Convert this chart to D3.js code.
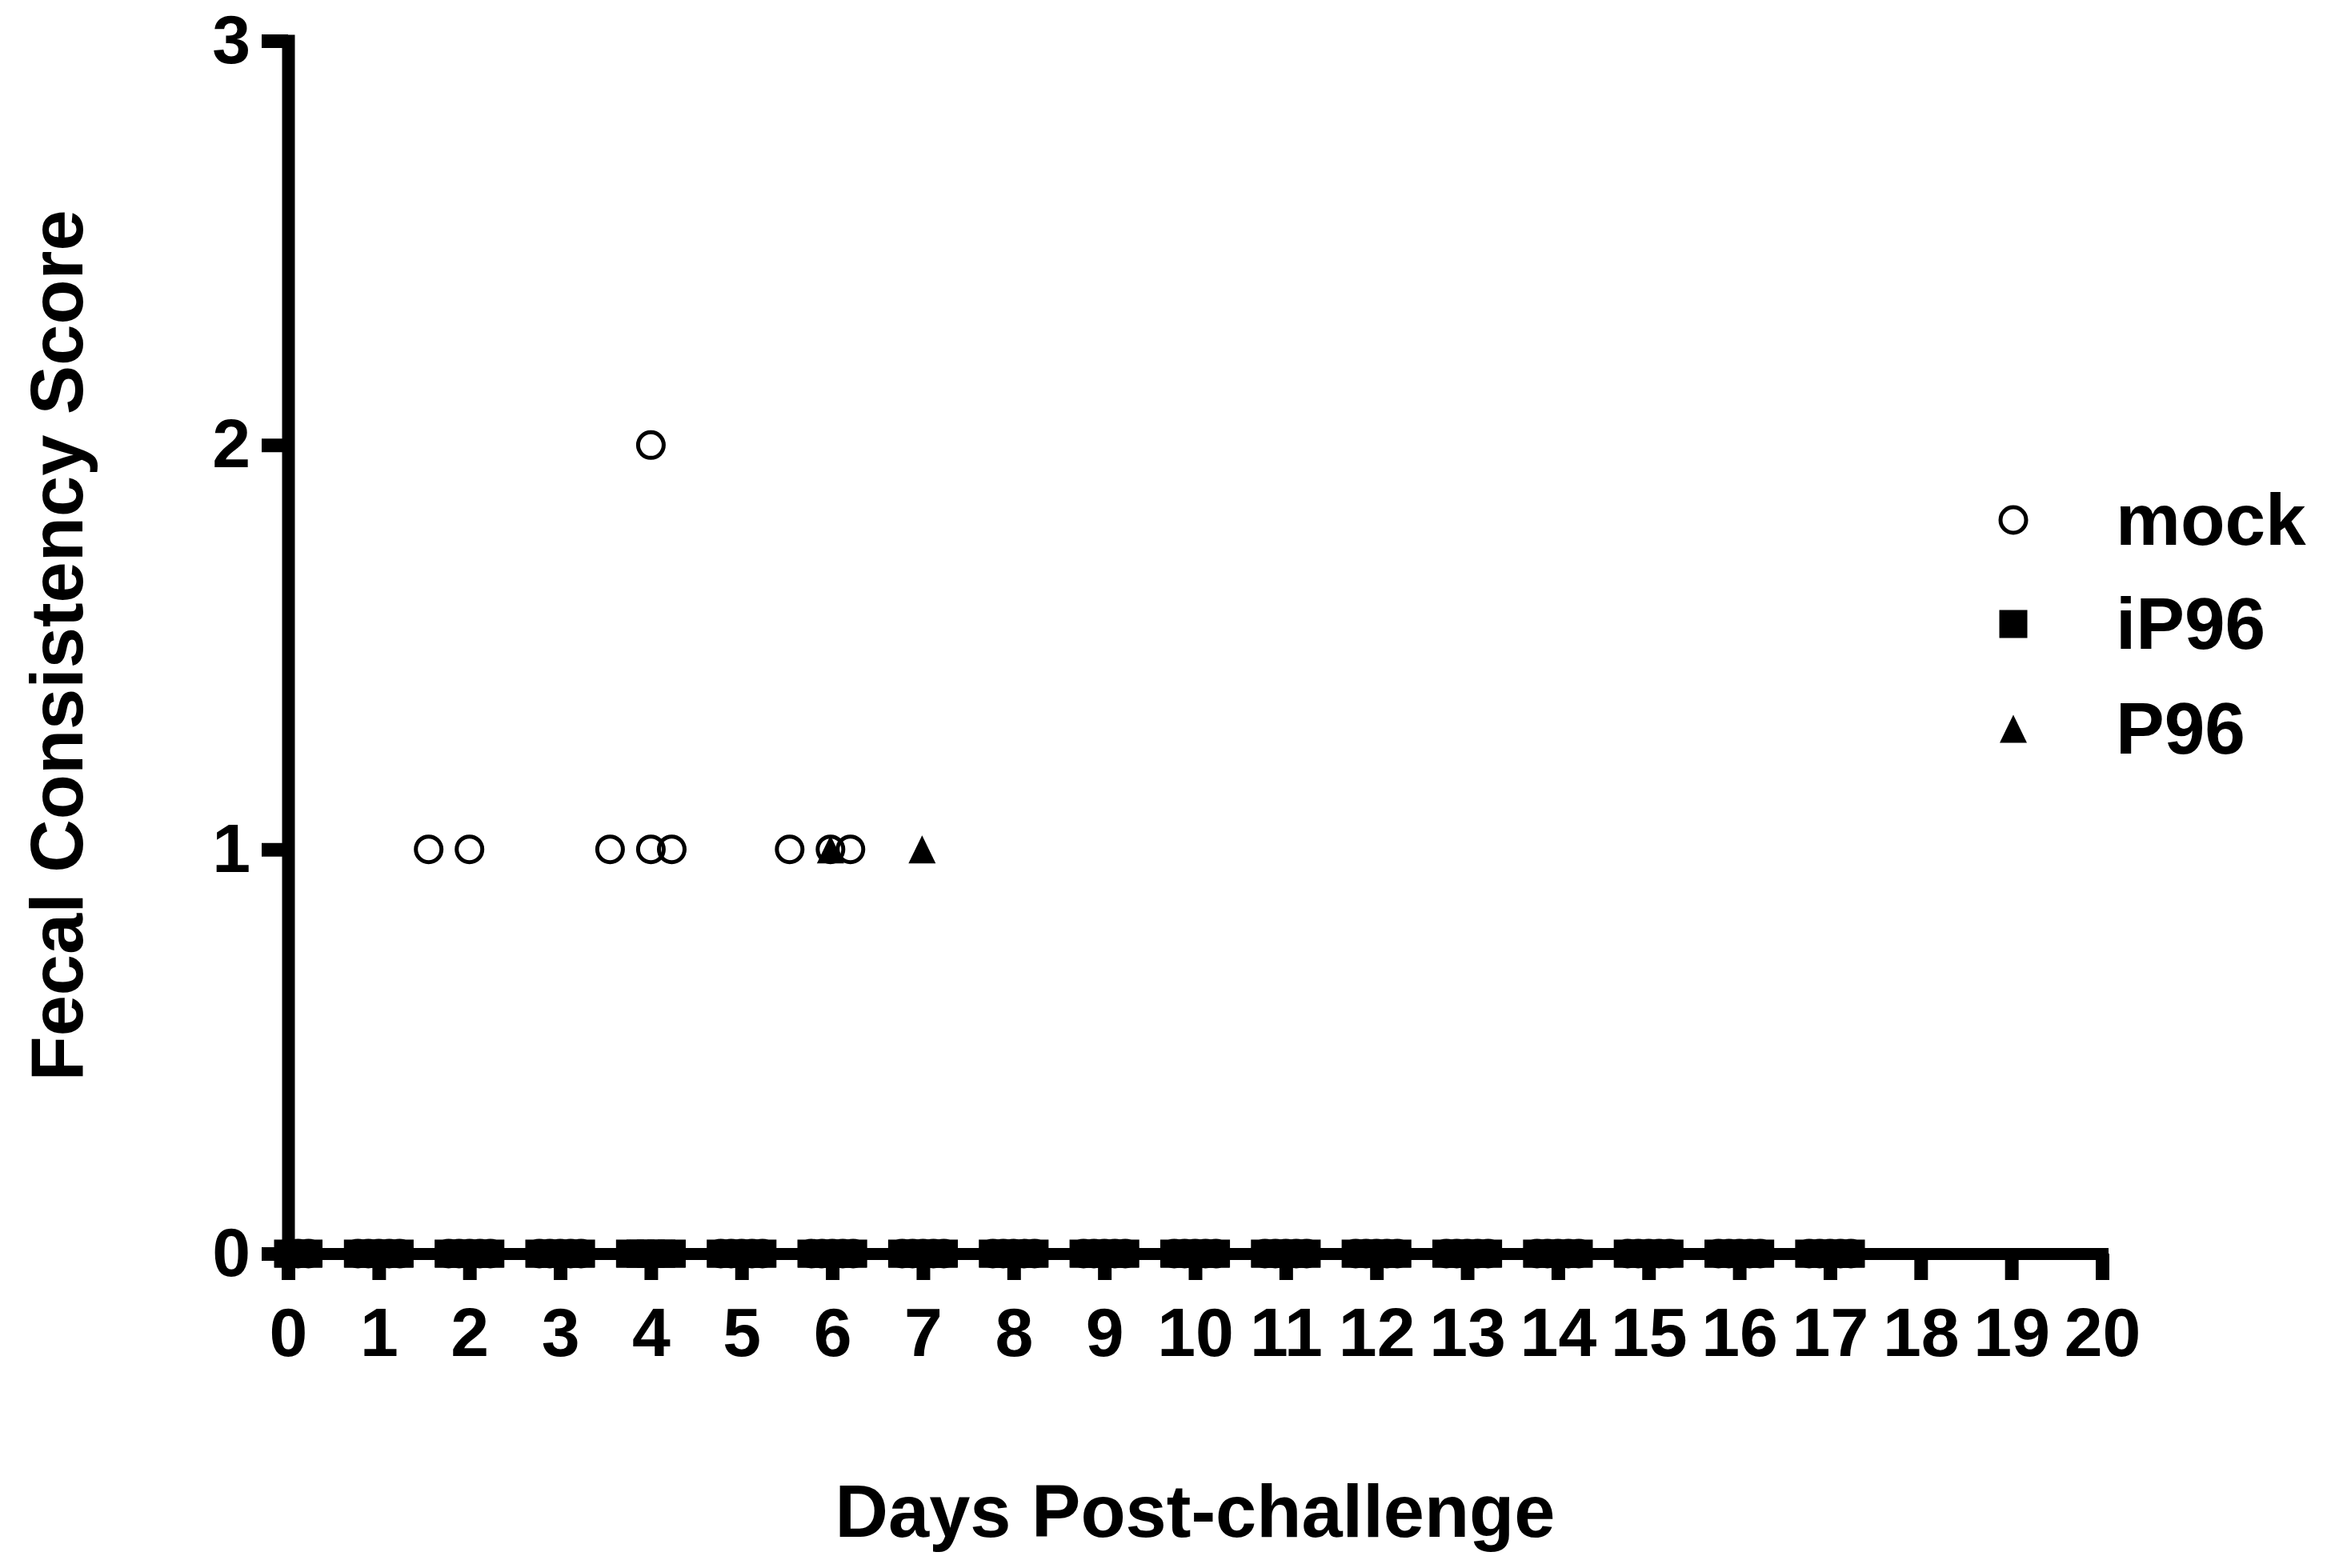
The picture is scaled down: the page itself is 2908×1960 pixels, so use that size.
<!DOCTYPE html>
<html lang="en">
<head>
  <meta charset="utf-8">
  <title>Fecal Consistency Score</title>
  <script src="https://cdnjs.cloudflare.com/ajax/libs/d3/7.8.5/d3.min.js"></script>
  <style>
    body { margin: 0; background: #fff; }
    text { font-family: "Liberation Sans", Arial, sans-serif; font-weight: bold; fill: #000; }
    .axis path, .axis line { stroke: #000; }
  </style>
</head>
<body>
  <svg id="chart" width="2908" height="1960"></svg>

  <script>
    // ticks
    var xTicks = [0, 1, 2, 3, 4, 5, 6, 7, 8, 9, 10, 11, 12, 13, 14, 15, 16, 17, 18, 19, 20];
    var yTicks = [0, 1, 2, 3];

    // days that were scored
    var days = [0, 1, 2, 3, 4, 5, 6, 7, 8, 9, 10, 11, 12, 13, 14, 15, 16, 17];

    // spread of overlapping zero scores around each day
    var zeroSpread = [-0.23, -0.115, 0, 0.115, 0.23];
    var day0Spread = [0, 0.11, 0.225];

    // non-zero scores: [x position, score]
    var mockScores = [[1.55, 1], [2, 1], [3.55, 1], [4, 1], [4.23, 1], [4, 2], [5.53, 1], [5.98, 1], [6.2, 1]];
    var iP96Scores = [];
    var p96Scores = [[5.98, 1], [6.99, 1]];

    // days where every mock animal scored above zero
    var mockNoZeroDays = [4];

    var groups = ["mock", "iP96", "P96"];

    var svg = d3.select("#chart");

    var x = d3.scaleLinear().domain([0, 20]).range([360, 2627]);
    var y = d3.scaleLinear().domain([0, 3]).range([1567, 51]);

    // axes
    var xAxis = svg.append("g")
      .attr("class", "axis")
      .attr("transform", "translate(0," + y(0) + ")")
      .call(d3.axisBottom(x).tickValues(xTicks).tickSize(33).tickSizeOuter(0).tickPadding(34).tickFormat(d3.format("d")));
    xAxis.select(".domain").attr("stroke-width", 15).attr("stroke-linecap", "square");
    xAxis.selectAll(".tick line").attr("stroke-width", 17);
    xAxis.selectAll(".tick text").attr("font-size", 86).attr("dy", "0.71em");

    var yAxis = svg.append("g")
      .attr("class", "axis")
      .attr("transform", "translate(" + x(0) + ",0)")
      .call(d3.axisLeft(y).tickValues(yTicks).tickSize(33).tickSizeOuter(0).tickPadding(14).tickFormat(d3.format("d")));
    yAxis.select(".domain").attr("stroke-width", 16).attr("stroke-linecap", "square");
    yAxis.selectAll(".tick line").attr("stroke-width", 17);
    yAxis.selectAll(".tick text").attr("font-size", 86).attr("dy", "0.32em");

    xAxis.selectAll("text").attr("font-family", null);
    yAxis.selectAll("text").attr("font-family", null);

    // build point lists
    function zeroPoints(skipDays) {
      var pts = [];
      days.forEach(function (d) {
        if (skipDays.indexOf(d) >= 0) return;
        var spread = d === 0 ? day0Spread : zeroSpread;
        spread.forEach(function (o) { pts.push([d + o, 0]); });
      });
      return pts;
    }

    var mockPts = zeroPoints(mockNoZeroDays).concat(mockScores);
    var iP96Pts = zeroPoints([]).concat(iP96Scores);
    var p96Pts = zeroPoints([]).concat(p96Scores);

    var trianglePath = "M0,-17.5L17,17.5L-17,17.5Z";

    var plot = svg.append("g");

    plot.selectAll(".mock").data(mockPts).enter().append("circle")
      .attr("class", "mock")
      .attr("cx", function (d) { return x(d[0]); })
      .attr("cy", function (d) { return y(d[1]); })
      .attr("r", 16)
      .attr("fill", "none")
      .attr("stroke", "#000")
      .attr("stroke-width", 5);

    plot.selectAll(".ip96").data(iP96Pts).enter().append("rect")
      .attr("class", "ip96")
      .attr("x", function (d) { return x(d[0]) - 17.5; })
      .attr("y", function (d) { return y(d[1]) - 17.5; })
      .attr("width", 35)
      .attr("height", 35)
      .attr("fill", "#000");

    plot.selectAll(".p96").data(p96Pts).enter().append("path")
      .attr("class", "p96")
      .attr("d", trianglePath)
      .attr("transform", function (d) { return "translate(" + x(d[0]) + "," + y(d[1]) + ")"; })
      .attr("fill", "#000");

    // axis titles
    svg.append("text")
      .attr("x", (x(0) + x(20)) / 2)
      .attr("y", 1921)
      .attr("text-anchor", "middle")
      .attr("font-size", 92)
      .text("Days Post-challenge");

    svg.append("text")
      .attr("transform", "translate(103,807) rotate(-90)")
      .attr("text-anchor", "middle")
      .attr("font-size", 92)
      .text("Fecal Consistency Score");

    // legend
    var legendY = [650, 780, 911];
    var legend = svg.append("g");
    legend.append("circle").attr("cx", 2516).attr("cy", legendY[0]).attr("r", 16)
      .attr("fill", "none").attr("stroke", "#000").attr("stroke-width", 5);
    legend.append("rect").attr("x", 2516 - 17.5).attr("y", legendY[1] - 17.5)
      .attr("width", 35).attr("height", 35).attr("fill", "#000");
    legend.append("path").attr("d", trianglePath)
      .attr("transform", "translate(2516," + legendY[2] + ")").attr("fill", "#000");

    legend.selectAll(".label").data(groups).enter().append("text")
      .attr("class", "label")
      .attr("x", 2644)
      .attr("y", function (d, i) { return legendY[i] + 31; })
      .attr("font-size", 91)
      .text(function (d) { return d; });
  </script>
</body>
</html>
